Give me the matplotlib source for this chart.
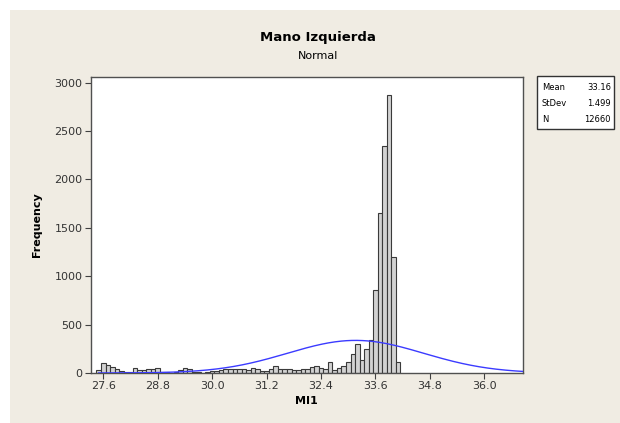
from matplotlib import pyplot as plt
from matplotlib.patches import Rectangle
import numpy

# bin centres (width 0.1) and counts
centres = numpy.round(numpy.arange(27.5, 34.15, 0.1), 1)
counts = [35, 103, 79, 59, 45, 17, 10, 10, 52, 31,
          31, 38, 38, 52, 10, 10, 5, 10, 35, 52,
          38, 10, 10, 5, 15, 20, 20, 35, 38, 38,
          38, 38, 38, 31, 52, 38, 24, 24, 45, 72,
          45, 45, 41, 35, 35, 41, 41, 62, 76, 48,
          41, 114, 28, 55, 69, 118, 200, 297, 138, 250,
          345, 855, 1650, 2350, 2870, 1200, 110]

mean = 33.16
stdev = 1.499
n = 12660
bin_width = 0.1

x_ticks = [27.6, 28.8, 30.0, 31.2, 32.4, 33.6, 34.8, 36.0]
y_ticks = [0, 500, 1000, 1500, 2000, 2500, 3000]

fig = plt.figure(figsize=(6.2, 4.23), dpi=100)
fig.patch.set_facecolor('white')
# beige panel behind everything
fig.patches.append(Rectangle((10/620, 0), 1, 1 - 10/423, transform=fig.transFigure,
                             facecolor='#f0ece3', edgecolor='none', zorder=-10))

ax = fig.add_axes([91/620, 1 - 373/423, 431.5/620, 296/423])
ax.set_facecolor('white')

ax.bar(centres[:len(counts)], counts, width=bin_width, color='#d2d2d2',
       edgecolor='#3a3a3a', linewidth=0.8, zorder=2)

xs = numpy.linspace(27.5, 36.85, 400)
pdf = numpy.exp(-0.5*((xs - mean)/stdev)**2)/(stdev*numpy.sqrt(2*numpy.pi))
ax.plot(xs, pdf*n*bin_width, color='#3b3bff', linewidth=1.0, zorder=3)

ax.set_xlim(27.33, 36.84)
ax.set_ylim(0, 3059)
ax.set_xticks(x_ticks)
ax.set_xticklabels([format(v, '.1f') for v in x_ticks])
ax.set_yticks(y_ticks)
ax.tick_params(direction='out', length=4, width=0.8, colors='#404040',
               labelsize=8, labelcolor='#333333', pad=2)
for s in ax.spines.values():
    s.set_color('#505050')
    s.set_linewidth(1.0)

ax.set_xlabel('MI1', fontsize=8, fontweight='bold', labelpad=3)
ax.set_ylabel('Frequency', fontsize=8, fontweight='bold', labelpad=9)

fig.text(318/620, 1 - 38/423, 'Mano Izquierda', ha='center', va='center',
         fontsize=9.5, fontweight='bold')
fig.text(318/620, 1 - 56/423, 'Normal', ha='center', va='center', fontsize=8)

# stats box
fig.patches.append(Rectangle((537/620, 1 - 129/423), 77/620, 53/423,
                             transform=fig.transFigure, facecolor='white',
                             edgecolor='#333333', linewidth=1.0))
rows = [('Mean', '33.16'), ('StDev', '1.499'), ('N', '12660')]
for i, (lab, val) in enumerate(rows):
    yy = 1 - (87 + i*16)/423
    fig.text(542/620, yy, lab, ha='left', va='center', fontsize=6)
    fig.text(611/620, yy, val, ha='right', va='center', fontsize=6)

plt.savefig('out.png', dpi=100)
